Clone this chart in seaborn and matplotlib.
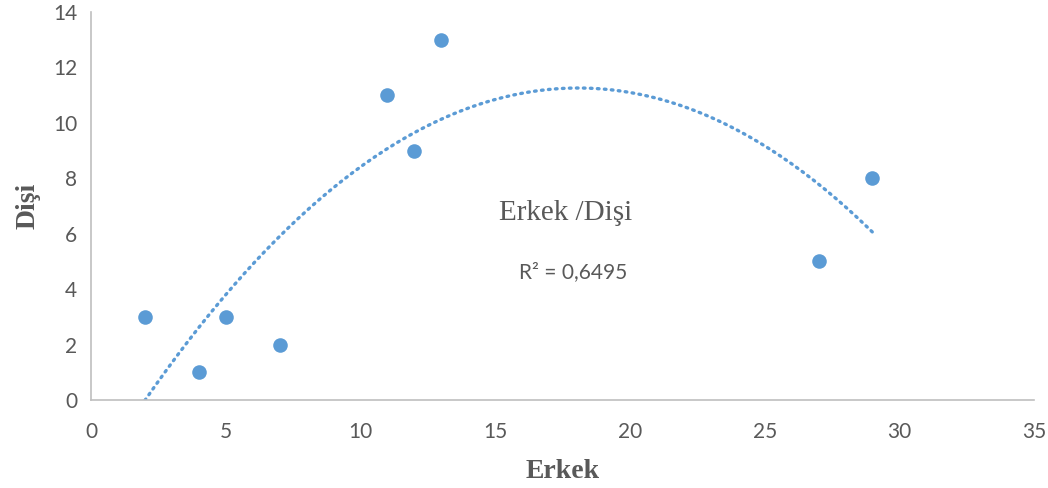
import numpy as np
import pandas as pd
import seaborn as sns
import matplotlib.pyplot as plt

# Data
erkek = [2, 4, 5, 7, 11, 12, 13, 27, 29]
disi = [3, 1, 3, 2, 11, 9, 13, 5, 8]
x_ticks = [0, 5, 10, 15, 20, 25, 30, 35]
y_ticks = [0, 2, 4, 6, 8, 10, 12, 14]
chart_title = "Erkek /Dişi"
r2_label = "R² = 0,6495"

df = pd.DataFrame({"Erkek": erkek, "Dişi": disi})

sns.set_style("white")
plt.rcParams["font.family"] = ["Lato", "DejaVu Sans"]

blue = "#5b9bd5"
gray = "#595959"

fig = plt.figure(figsize=(10.48, 4.88), dpi=100)
ax = fig.add_axes([0.0868, 0.1803, 0.9, 0.7951])

# polynomial (order 2) trendline over the data range
coef = np.polyfit(df["Erkek"], df["Dişi"], 2)
xs = np.linspace(min(erkek), max(erkek), 200)
trend = pd.DataFrame({"x": xs, "y": np.polyval(coef, xs)})
sns.lineplot(data=trend, x="x", y="y", ax=ax, color=blue, linewidth=2.4,
             linestyle=(0, (0.5, 1.6)), dash_capstyle="round")

sns.scatterplot(data=df, x="Erkek", y="Dişi", ax=ax, s=110, color=blue,
                edgecolor=blue, linewidth=0, zorder=3)

ax.set_xlim(0, 35)
ax.set_ylim(0, 14)
ax.set_xticks(x_ticks)
ax.set_yticks(y_ticks)
ax.tick_params(axis="x", length=0, labelsize=15, labelcolor=gray, pad=16)
ax.tick_params(axis="y", length=0, labelsize=15, labelcolor=gray, pad=10)

for side in ["top", "right"]:
    ax.spines[side].set_visible(False)
for side in ["left", "bottom"]:
    ax.spines[side].set_color("#bfbfbf")
    ax.spines[side].set_linewidth(1.2)

ax.set_xlabel("Erkek", fontsize=20, fontweight="bold", color=gray,
              family="Liberation Serif", labelpad=12)
ax.set_ylabel("Dişi", fontsize=20, fontweight="bold", color=gray,
              family="Liberation Serif", labelpad=9)

ax.text(17.6, 6.75, chart_title, fontsize=21, color=gray,
        family="Liberation Serif", ha="center", va="center")
ax.text(17.9, 4.6, r2_label, fontsize=15, color=gray, ha="center", va="center")

fig.savefig("out.png", dpi=100)
